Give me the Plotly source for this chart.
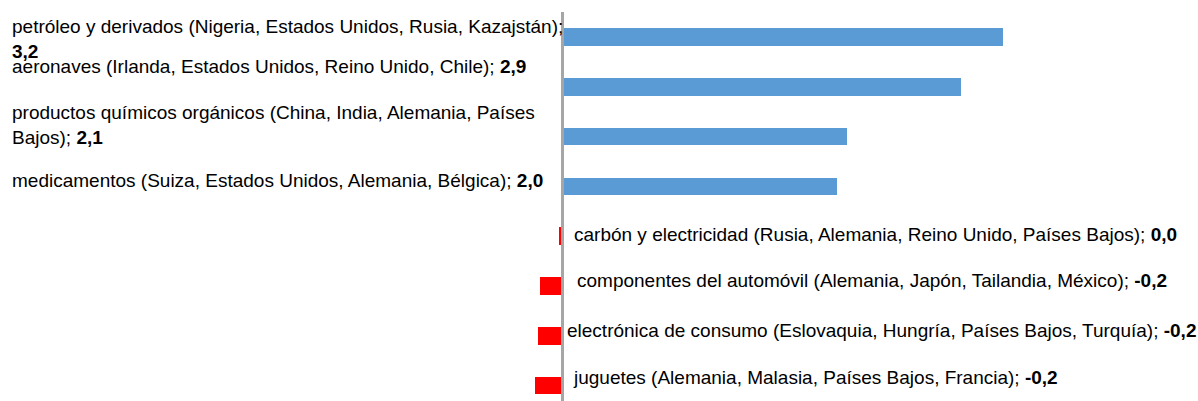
import plotly.graph_objects as go

categories = [
    "petróleo y derivados (Nigeria, Estados Unidos, Rusia, Kazajstán);",
    "aeronaves (Irlanda, Estados Unidos, Reino Unido, Chile);",
    "productos químicos orgánicos (China, India, Alemania, Países<br>Bajos);",
    "medicamentos (Suiza, Estados Unidos, Alemania, Bélgica);",
    "carbón y electricidad (Rusia, Alemania, Reino Unido, Países Bajos);",
    "componentes del automóvil (Alemania, Japón, Tailandia, México);",
    "electrónica de consumo (Eslovaquia, Hungría, Países Bajos, Turquía);",
    "juguetes (Alemania, Malasia, Países Bajos, Francia);",
]
values = [3.2, 2.895, 2.07, 1.995, -0.022, -0.161, -0.176, -0.198]
# line break between label text and value (True = value on a new line)
value_on_new_line = [True, False, False, False, False, False, False, False]

BLUE = "#5B9BD5"
RED = "#FF0000"
W, H = 1198, 401
ZERO_PX = 562.5
PX_PER_UNIT = 137.66
TOP = 12
SLOT = 49.8

def fmt(v):
    r = round(v, 1) + 0.0
    return f"{r:.1f}".replace(".", ",")

idx = list(range(len(categories)))
colors = [BLUE if v >= 0 else RED for v in values]

fig = go.Figure(go.Bar(
    x=values, y=idx, orientation="h", width=0.35,
    marker=dict(color=colors, line=dict(width=0)),
    hoverinfo="skip",
))

# label placement (pixel tweaks relative to bar centre / left edge)
label_dy = [0.035, -0.40, -0.226, -0.116, -0.03, -0.11, -0.10, -0.17]
label_xpx = [10, 10, 10, 10, 572, 574.5, 565, 571]

FONT = "Liberation Sans, Arial, sans-serif"
for i, (cat, v) in enumerate(zip(categories, values)):
    sep = "<br>" if value_on_new_line[i] else " "
    txt = f"{cat}{sep}<b>{fmt(v)}</b>"
    fig.add_annotation(
        x=label_xpx[i] / W, xref="paper", y=i + label_dy[i], yref="y",
        text=txt, showarrow=False, xanchor="left", yanchor="middle",
        align="left", font=dict(family=FONT, size=19, color="#000000"),
    )

xmin = -ZERO_PX / PX_PER_UNIT
xmax = (W - ZERO_PX) / PX_PER_UNIT
ytop = -(37 - TOP) / SLOT
ybot = ytop + (H - TOP) / SLOT

fig.add_shape(type="line", x0=0, x1=0, xref="x", y0=0, y1=1, yref="paper",
              line=dict(color="#A6A6A6", width=3), layer="above")

fig.update_layout(
    width=W, height=H,
    margin=dict(l=0, r=0, t=TOP, b=0),
    paper_bgcolor="white", plot_bgcolor="white",
    showlegend=False,
    xaxis=dict(range=[xmin, xmax], visible=False, zeroline=False, showgrid=False),
    yaxis=dict(range=[ybot, ytop], visible=False, zeroline=False, showgrid=False),
    bargap=0,
)

fig.write_html(
    "out.html",
    config={"displayModeBar": False},
    post_script="document.body.style.margin='0';document.body.style.overflow='hidden';",
)
